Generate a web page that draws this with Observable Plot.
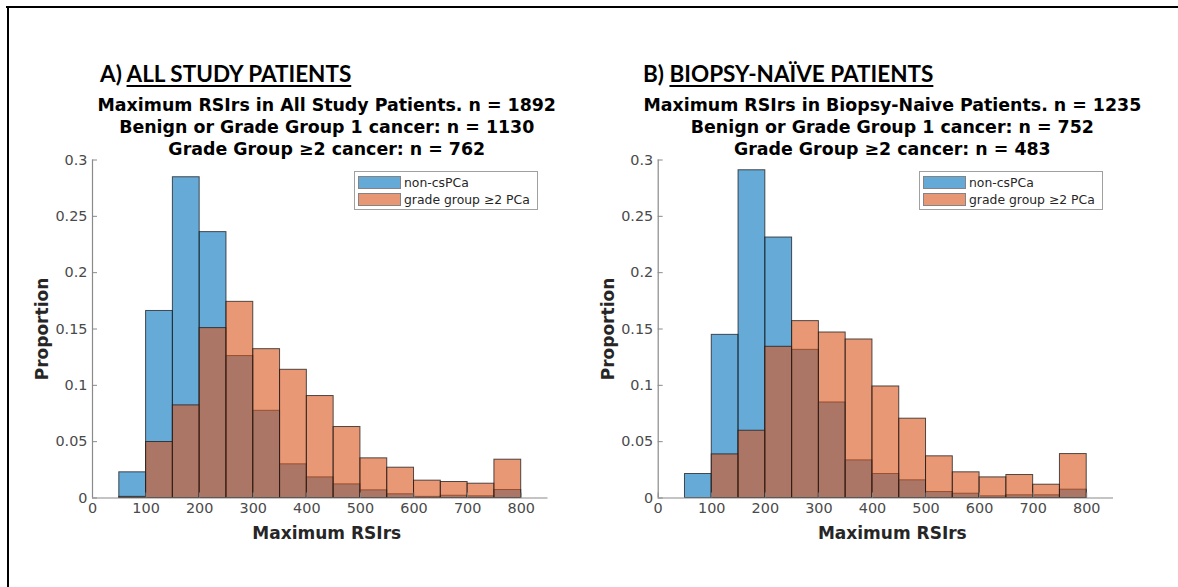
<!DOCTYPE html>
<html>
<head>
<meta charset="utf-8">
<script src="https://cdn.jsdelivr.net/npm/d3@7"></script>
<script src="https://cdn.jsdelivr.net/npm/@observablehq/plot@0.6"></script>
<style>
  html, body { margin: 0; padding: 0; background: #fff; }
  #page { position: relative; width: 1178px; height: 587px; background: #fff; overflow: hidden; }
  .frame-top { position: absolute; left: 6px; top: 6px; width: 1172px; height: 2px; background: #000; }
  .frame-left { position: absolute; left: 7px; top: 6px; width: 2px; height: 581px; background: #000; }
  .heading { position: absolute; font-family: Lato, "Open Sans", sans-serif; font-weight: 700; font-size: 22.5px; line-height: 1; color: #000; white-space: nowrap; }
  .heading u { text-decoration-thickness: 2px; text-underline-offset: 3px; }
  .titles { position: absolute; font-family: "DejaVu Sans", sans-serif; font-weight: 700; font-size: 17.4px; line-height: 22px; text-align: center; color: #000; white-space: nowrap; }
  .xlabel, .ylabel { position: absolute; font-family: "DejaVu Sans", sans-serif; font-weight: 700; font-size: 17px; color: #262626; white-space: nowrap; text-align: center; }
  .ylabel { transform: rotate(-90deg); transform-origin: center center; }
  .legend { position: absolute; border: 1px solid #a0a0a0; background: #fff; font-family: "DejaVu Sans", sans-serif; font-size: 12.4px; color: #262626; padding: 2px 4px 1px 3px; }
  .legend .row { display: flex; align-items: center; height: 17px; }
  .legend .sw { width: 41px; height: 11px; border: 1px solid #333; margin-right: 3px; }
  svg { position: absolute; }
</style>
</head>
<body>
<div id="page">
  <div class="frame-top"></div>
  <div class="frame-left"></div>
</div>
<script>
// ---- data ----
const binEdges = [50, 100, 150, 200, 250, 300, 350, 400, 450, 500, 550, 600, 650, 700, 750, 800];
const xTicks = [0, 100, 200, 300, 400, 500, 600, 700, 800];
const yTicks = [0, 0.05, 0.1, 0.15, 0.2, 0.25, 0.3];
const yTickLabels = ["0", "0.05", "0.1", "0.15", "0.2", "0.25", "0.3"];
const seriesNames = ["non-csPCa", "grade group \u22652 PCa"];

// Panel A: all study patients (proportions per bin)
const allNonCs = [0.0228, 0.166, 0.2847, 0.236, 0.126, 0.0774, 0.0299, 0.0183, 0.0121, 0.0068, 0.0033, 0.001, 0.002, 0.0015, 0.0071];
const allGg2   = [0.001, 0.0497, 0.0822, 0.1508, 0.1741, 0.1321, 0.1138, 0.0905, 0.063, 0.0352, 0.0269, 0.0154, 0.0142, 0.0127, 0.034];
// Panel B: biopsy-naive patients
const naiveNonCs = [0.0213, 0.1448, 0.2909, 0.2312, 0.1315, 0.0848, 0.0334, 0.0213, 0.0157, 0.0053, 0.0038, 0.0015, 0.0024, 0.0024, 0.0074];
const naiveGg2   = [0.0, 0.0387, 0.0597, 0.1342, 0.157, 0.1469, 0.1407, 0.099, 0.0704, 0.037, 0.0228, 0.0183, 0.0204, 0.0118, 0.039];

const headingA = ["A) ", "ALL STUDY PATIENTS"];
const headingB = ["B) ", "BIOPSY-NA\u00CFVE PATIENTS"];
const titlesA = ["Maximum RSIrs in All Study Patients. n = 1892", "Benign or Grade Group 1 cancer: n = 1130", "Grade Group \u22652 cancer: n = 762"];
const titlesB = ["Maximum RSIrs in Biopsy-Naive Patients. n = 1235", "Benign or Grade Group 1 cancer: n = 752", "Grade Group \u22652 cancer: n = 483"];
const xLabel = "Maximum RSIrs";
const yLabel = "Proportion";

// ---- styles ----
const BLUE = "rgb(0,114,189)";
const ORANGE = "rgb(217,83,25)";

const page = document.getElementById("page");

function toBins(vals) {
  return vals.map((v, i) => ({x0: binEdges[i], x1: binEdges[i + 1], v}));
}

function panel(cfg) {
  const W = 589, H = 410, top = 140;
  const mL = cfg.axisLeft - cfg.left;
  const mR = cfg.left + W - cfg.axisRight;
  const mT = 159.5 - top, mB = top + H - 497.5;
  const chart = Plot.plot({
    width: W, height: H,
    marginLeft: mL, marginRight: mR, marginTop: mT, marginBottom: mB,
    x: {domain: [0, 850]},
    y: {domain: [0, 0.3]},
    style: {fontFamily: "DejaVu Sans, sans-serif", fontSize: "14.4px", color: "#4a4a4a", background: "transparent", overflow: "visible"},
    marks: [
      Plot.rectY(toBins(cfg.a), {x1: "x0", x2: "x1", y: "v", fill: BLUE, fillOpacity: 0.6, stroke: "#1a1a1a", strokeOpacity: 0.75, strokeWidth: 1}),
      Plot.rectY(toBins(cfg.b), {x1: "x0", x2: "x1", y: "v", fill: ORANGE, fillOpacity: 0.6, stroke: "#1a1a1a", strokeOpacity: 0.75, strokeWidth: 1}),
      Plot.ruleY([0], {stroke: "#8a8a8a", strokeWidth: 1.2}),
      Plot.ruleX([0], {stroke: "#8a8a8a", strokeWidth: 1.2}),
      Plot.axisX({ticks: xTicks, tickSize: -5, tickPadding: 10, tickFormat: d => String(d), label: null, stroke: "#8a8a8a", fill: "#4a4a4a"}),
      Plot.axisY({ticks: yTicks, tickSize: -5, tickPadding: 10, tickFormat: d => yTickLabels[yTicks.indexOf(d)], label: null, stroke: "#8a8a8a", fill: "#4a4a4a"})
    ]
  });
  chart.style.left = cfg.left + "px";
  chart.style.top = top + "px";
  page.appendChild(chart);

  const cx = (cfg.axisLeft + cfg.axisRight) / 2 + cfg.titleShift;

  const h = document.createElement("div");
  h.className = "heading";
  h.style.left = cfg.headLeft + "px";
  h.style.top = "63px";
  h.innerHTML = cfg.heading[0] + "<u>" + cfg.heading[1] + "</u>";
  page.appendChild(h);

  const t = document.createElement("div");
  t.className = "titles";
  t.style.left = (cx - 300) + "px";
  t.style.width = "600px";
  t.style.top = "94px";
  t.innerHTML = cfg.titles.join("<br>");
  page.appendChild(t);

  const xl = document.createElement("div");
  xl.className = "xlabel";
  xl.style.left = (cx - 150) + "px";
  xl.style.width = "300px";
  xl.style.top = "523px";
  xl.textContent = xLabel;
  page.appendChild(xl);

  const yl = document.createElement("div");
  yl.className = "ylabel";
  yl.style.left = (cfg.axisLeft - 50 - 100) + "px";
  yl.style.width = "200px";
  yl.style.top = (328.5 - 10) + "px";
  yl.style.height = "20px";
  yl.style.lineHeight = "20px";
  yl.textContent = yLabel;
  page.appendChild(yl);

  const lg = document.createElement("div");
  lg.className = "legend";
  lg.style.left = cfg.legLeft + "px";
  lg.style.top = "171px";
  lg.style.width = "175px";
  [[BLUE, seriesNames[0]], [ORANGE, seriesNames[1]]].forEach(([c, name]) => {
    const r = document.createElement("div");
    r.className = "row";
    const sw = document.createElement("div");
    sw.className = "sw";
    sw.style.background = c;
    sw.style.opacity = "0.6";
    const sp = document.createElement("span");
    sp.textContent = name;
    r.appendChild(sw); r.appendChild(sp);
    lg.appendChild(r);
  });
  page.appendChild(lg);
}

panel({left: 0, axisLeft: 92, axisRight: 547.5, a: allNonCs, b: allGg2, heading: headingA, titles: titlesA, headLeft: 100, legLeft: 354, titleShift: 7});
panel({left: 589, axisLeft: 657.7, axisRight: 1113, a: naiveNonCs, b: naiveGg2, heading: headingB, titles: titlesB, headLeft: 643, legLeft: 919, titleShift: 7});
</script>
</body>
</html>
